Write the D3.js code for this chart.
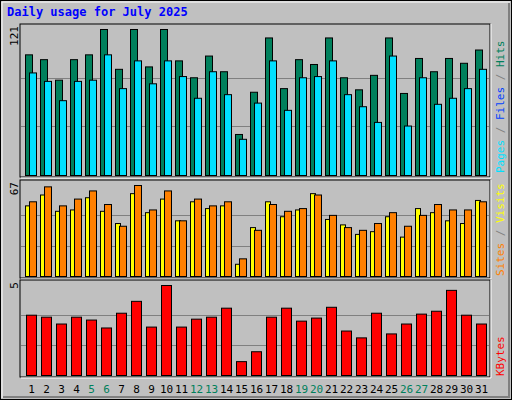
<!DOCTYPE html><html><head><meta charset="utf-8">
<script src="https://cdn.jsdelivr.net/npm/d3@7"></script>
<style>body{margin:0;background:#fff}</style></head><body>
<script>
const days = d3.range(1,32);
const weekendDays = [5,6,12,13,19,20,26,27];
const hits  = [100,96,79,96,100,121,88,121,90,121,95,81,99,86,34,69,114,72,96,92,114,81,71,83,114,68,97,86,97,93,104];
const pages = [85,78,62,78,79,100,72,95,76,95,82,64,86,67,30,60,95,54,81,82,95,67,57,44,99,41,81,59,64,72,88];
const visits= [52,60,48,49,58,48,39,61,47,57,41,55,50,52,9,36,55,44,49,61,42,38,31,33,44,29,50,47,41,39,56];
const sites = [55,66,52,57,63,53,37,67,49,63,41,57,52,55,13,34,53,48,50,60,45,36,34,39,47,37,45,53,49,49,55];
const kbytes= [3.35,3.24,2.86,3.24,3.08,2.64,3.46,4.12,2.69,5,2.69,3.13,3.24,3.74,0.77,1.32,3.24,3.74,3.02,3.19,3.79,2.47,2.09,3.46,2.31,2.86,3.41,3.57,4.73,3.35,2.86];
const maxLabels = ["121","67","5"];

const W=512,H=400;
const svg=d3.select("body").append("svg").attr("width",W).attr("height",H);
const F="DejaVu Sans Mono, monospace";
svg.append("rect").attr("width",W).attr("height",H).attr("fill","#C0C0C0");
svg.append("rect").attr("x",0.5).attr("y",0.5).attr("width",W-1).attr("height",H-1).attr("fill","none").attr("stroke","#000");
svg.append("path").attr("d",`M2,${H-2}V2H${W-2}`).attr("stroke","#fff").attr("fill","none");
svg.append("path").attr("d",`M3,${H-3}H${W-3}V3`).attr("stroke","#808080").attr("stroke-width",2).attr("fill","none");
svg.append("text").attr("x",7).attr("y",16).text("Daily usage for July 2025")
  .attr("font-family",F).attr("font-size",12).attr("font-weight","bold").attr("fill","#0000FF");

const x=d3.scaleBand().domain(days).range([23,488]).paddingInner(0).paddingOuter(0);
const L=20,R=490;
function panel(y0,y1,max,label){
  svg.append("rect").attr("x",L).attr("y",y0).attr("width",R-L).attr("height",y1-y0)
    .attr("fill","#C0C0C0").attr("stroke","#000");
  svg.append("path").attr("d",`M${L+1},${y1+1}H${R+1}V${y0}`).attr("stroke","#fff").attr("fill","none");
  const y=d3.scaleLinear().domain([0,max]).range([y1-2,y0+5]);
  [1/3,2/3].forEach(f=>svg.append("line").attr("x1",L+1).attr("x2",R-1)
     .attr("y1",Math.round(y(max*f))+0.5).attr("y2",Math.round(y(max*f))+0.5).attr("stroke","#808080"));
  svg.append("text").attr("transform",`translate(18,${y0+2}) rotate(-90)`).attr("text-anchor","end")
     .attr("font-family",F).attr("font-size",11).text(label);
  return y;
}
function bars(y,data,dx,w,color){
  svg.append("g").selectAll("rect").data(data).join("rect")
   .attr("x",(d,i)=>x(days[i])+dx+0.5).attr("width",w).attr("y",d=>y(d)+0.5)
   .attr("height",d=>y(0)-y(d)).attr("fill",color).attr("stroke","#000");
}
const y1=panel(24,177,121,maxLabels[0]);
bars(y1,hits,2,7,"#00805C");
bars(y1,pages,6,7,"#00E0FF");
const y2=panel(180,278,67,maxLabels[1]);
bars(y2,visits,2,5,"#FFFF00");
bars(y2,sites,6,7,"#FF8000");
const y3=panel(280,377,5,maxLabels[2]);
bars(y3,kbytes,3,10,"#FF0000");

svg.append("g").selectAll("text").data(days).join("text")
  .attr("x",d=>x(d)+8.5).attr("y",393).attr("text-anchor","middle")
  .attr("font-family",F).attr("font-size",11)
  .attr("fill",d=>weekendDays.includes(d)?"#00805C":"#000").text(d=>d);

function rlabel(yb,parts){
  const t=svg.append("text").attr("transform",`translate(504,${yb}) rotate(-90)`)
    .attr("font-family",F).attr("font-size",11);
  parts.forEach(p=>t.append("tspan").attr("fill",p[1]).text(p[0]));
}
rlabel(173,[["Pages","#00E0FF"],[" / ","#808080"],["Files","#0040FF"],[" / ","#808080"],["Hits","#00805C"]]);
rlabel(276,[["Sites","#FF8000"],[" / ","#808080"],["Visits","#FFFF00"]]);
rlabel(376,[["KBytes","#FF0000"]]);
</script></body></html>
